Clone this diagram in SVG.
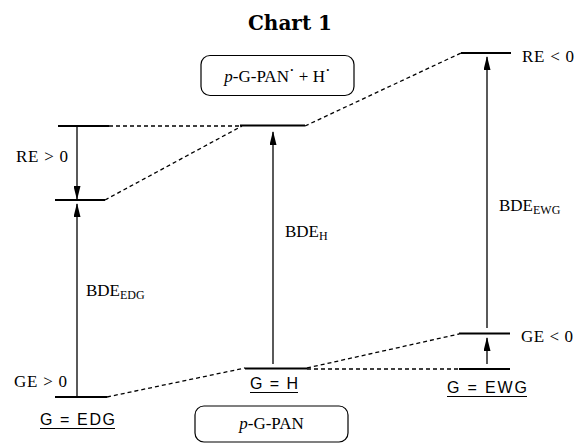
<svg xmlns="http://www.w3.org/2000/svg" width="579" height="443" viewBox="0 0 579 443">
<style>
.lvl{stroke:#000;stroke-width:1.8;fill:none}
.dash{stroke:#000;stroke-width:1.3;fill:none;stroke-dasharray:4 3}
.arr{stroke:#000;stroke-width:1.3;fill:none;marker-end:url(#ah)}
.box{stroke:#000;stroke-width:1.2;fill:#fff}
.ul{stroke:#000;stroke-width:1.2}
.t{font-family:"Liberation Serif","Times New Roman",serif;font-size:17px;fill:#000}
.s{font-family:"Liberation Sans",Arial,sans-serif;font-size:16px;fill:#000}
.title{font-family:"DejaVu Serif",serif;font-weight:bold;font-size:20px;fill:#000}
</style>
<defs>
<marker id="ah" viewBox="0 0 14 7" refX="13" refY="3.5" markerWidth="14" markerHeight="7" markerUnits="userSpaceOnUse" orient="auto">
<path d="M0,0 L14,3.5 L0,7 Z" fill="#000"/>
</marker>
</defs>
<rect width="579" height="443" fill="#fff"/>
<text class="title" x="290" y="30" text-anchor="middle">Chart 1</text>

<g id="connectors">
<line class="dash" x1="109" y1="126" x2="241" y2="126"/>
<line class="dash" x1="105" y1="200" x2="242" y2="126"/>
<line class="dash" x1="305" y1="126" x2="461" y2="53"/>
<line class="dash" x1="107" y1="397" x2="245" y2="368"/>
<line class="dash" x1="307" y1="368" x2="459" y2="334"/>
<line class="dash" x1="307" y1="369" x2="459" y2="369"/>
<line class="arr" x1="77" y1="127" x2="77" y2="199"/>
<line class="arr" x1="77" y1="396" x2="77" y2="204"/>
<line class="arr" x1="273" y1="364" x2="273" y2="132"/>
<line class="arr" x1="487" y1="328" x2="487" y2="57"/>
<line class="arr" x1="487" y1="364" x2="487" y2="338"/>
</g>

<g id="box-top">
<rect class="box" x="201" y="55.5" width="153" height="40" rx="9"/>
<text class="t" x="277.5" y="82" text-anchor="middle"><tspan font-style="italic">p</tspan>-G-PAN<tspan dy="-6">·</tspan><tspan dy="6"> + H</tspan><tspan dy="-6">·</tspan></text>
</g>

<g id="box-bottom">
<rect class="box" x="195" y="406" width="153" height="36" rx="9"/>
<text class="t" x="271.5" y="429" text-anchor="middle"><tspan font-style="italic">p</tspan>-G-PAN</text>
</g>

<g id="edg">
<line class="lvl" x1="58" y1="126" x2="109" y2="126"/>
<line class="lvl" x1="55" y1="200" x2="105" y2="200"/>
<line class="lvl" x1="55" y1="397" x2="107" y2="397"/>
<text class="t" x="16" y="162" textLength="52" lengthAdjust="spacing">RE &gt; 0</text>
<text class="t" x="86" y="296">BDE<tspan font-size="12" dy="3">EDG</tspan></text>
<text class="t" x="14" y="387" textLength="53" lengthAdjust="spacing">GE &gt; 0</text>
<text class="s" x="40" y="425" textLength="75" lengthAdjust="spacing">G = EDG</text>
<line class="ul" x1="40" y1="428.5" x2="115" y2="428.5"/>
</g>

<g id="h">
<line class="lvl" x1="240" y1="125.5" x2="305" y2="125.5"/>
<line class="lvl" x1="245" y1="368.5" x2="307" y2="368.5"/>
<text class="t" x="285" y="237">BDE<tspan font-size="12" dy="3">H</tspan></text>
<text class="s" x="250" y="389" textLength="48" lengthAdjust="spacing">G = H</text>
<line class="ul" x1="250" y1="392.5" x2="298" y2="392.5"/>
</g>

<g id="ewg">
<line class="lvl" x1="461" y1="53" x2="511" y2="53"/>
<line class="lvl" x1="459" y1="333.5" x2="510" y2="333.5"/>
<line class="lvl" x1="459" y1="369" x2="510" y2="369"/>
<text class="t" x="522" y="62" textLength="52" lengthAdjust="spacing">RE &lt; 0</text>
<text class="t" x="499" y="211">BDE<tspan font-size="12" dy="3">EWG</tspan></text>
<text class="t" x="521" y="342" textLength="52" lengthAdjust="spacing">GE &lt; 0</text>
<text class="s" x="447" y="393" textLength="80" lengthAdjust="spacing">G = EWG</text>
<line class="ul" x1="447" y1="396.5" x2="527" y2="396.5"/>
</g>
</svg>
